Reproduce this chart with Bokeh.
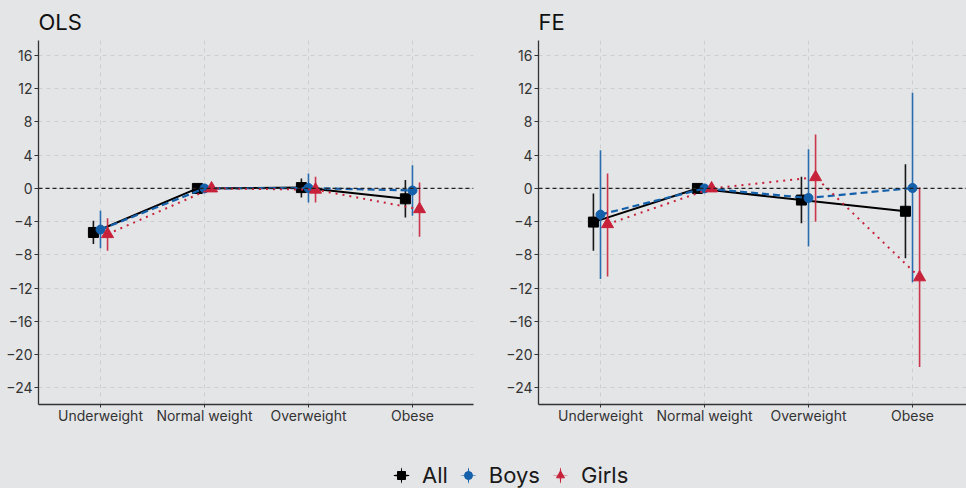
import math
from bokeh.plotting import figure
from bokeh.models import (ColumnDataSource, FixedTicker, Span, Range1d, Legend, LegendItem)
from bokeh.layouts import column, row
from bokeh.transform import dodge
from bokeh.embed import file_html
from bokeh.resources import INLINE

# ---------------- data ----------------
categories = ["Underweight", "Normal weight", "Overweight", "Obese"]
cat_pos = [1, 2, 3, 4]
y_ticks = [-24, -20, -16, -12, -8, -4, 0, 4, 8, 12, 16]
NaN = float("nan")

ols_all = [-5.3, 0.0, 0.1, -1.25]
ols_all_lo = [-6.7, NaN, -1.1, -3.5]
ols_all_hi = [-3.9, NaN, 1.2, 1.0]
ols_boys = [-4.95, 0.0, 0.05, -0.25]
ols_boys_lo = [-7.2, NaN, -1.7, -3.3]
ols_boys_hi = [-2.7, NaN, 1.8, 2.8]
ols_girls = [-5.5, 0.0, -0.15, -2.5]
ols_girls_lo = [-7.5, NaN, -1.7, -5.8]
ols_girls_hi = [-3.6, NaN, 1.4, 0.7]

fe_all = [-4.05, 0.0, -1.4, -2.75]
fe_all_lo = [-7.5, NaN, -4.2, -8.4]
fe_all_hi = [-0.6, NaN, 1.4, 2.9]
fe_boys = [-3.15, 0.0, -1.15, 0.05]
fe_boys_lo = [-10.9, NaN, -7.0, -11.3]
fe_boys_hi = [4.6, NaN, 4.7, 11.5]
fe_girls = [-4.3, 0.0, 1.35, -10.7]
fe_girls_lo = [-10.6, NaN, -4.0, -21.5]
fe_girls_hi = [1.8, NaN, 6.5, 0.1]

series_names = ["All", "Boys", "Girls"]

# ---------------- style ----------------
BG = "#E4E5E7"
FONT = "Inter"
C_ALL = "#000000"
C_BOYS = "#1560AA"
C_GIRLS = "#C7223A"
DODGE = 0.068

series_style = {
    "All": dict(color=C_ALL, dash="solid", marker="square", size=10, lw=2.0, hbar=2.6, halpha=1.0),
    "Boys": dict(color=C_BOYS, dash="7 4", marker="circle", size=9, lw=2.2, hbar=1.8, halpha=0.6),
    "Girls": dict(color=C_GIRLS, dash="2 5", marker="triangle", size=12, lw=2.0, hbar=1.6, halpha=0.35),
}
offsets = {"All": -DODGE, "Boys": 0.0, "Girls": DODGE}


def make_panel(title, data, right_border, frame_width, x_end):
    p = figure(frame_width=frame_width, frame_height=364,
               x_range=Range1d(0.404, x_end), y_range=Range1d(-26.0, 17.8),
               toolbar_location=None, output_backend="svg",
               min_border_left=38, min_border_right=right_border,
               min_border_top=40, min_border_bottom=36)
    p.title.text = title
    p.title.text_font = FONT
    p.title.text_font_size = "22px"
    p.title.text_font_style = "normal"
    p.title.text_color = "#111111"
    p.title.align = "left"
    p.title.standoff = 12
    p.background_fill_color = BG
    p.border_fill_color = BG
    p.outline_line_color = None

    for ax in (p.xaxis[0], p.yaxis[0]):
        ax.axis_line_color = "#333333"
        ax.axis_line_width = 1.3
        ax.major_tick_line_color = "#333333"
        ax.major_tick_in = 0
        ax.minor_tick_line_color = None
        ax.major_label_text_font = FONT
        ax.major_label_text_font_size = "14px"
        ax.major_label_text_color = "#333333"
    p.xaxis.major_tick_out = 3
    p.yaxis.major_tick_out = 4
    p.xaxis.major_label_standoff = -1
    p.yaxis.major_label_standoff = 2
    p.xaxis.ticker = FixedTicker(ticks=cat_pos)
    p.xaxis.major_label_overrides = {c: l for c, l in zip(cat_pos, categories)}
    p.yaxis.ticker = FixedTicker(ticks=y_ticks)

    for g in (p.xgrid[0], p.ygrid[0]):
        g.grid_line_color = "#CDCED1"
        g.grid_line_dash = "4 4"
        g.grid_line_width = 1
    p.xgrid.ticker = FixedTicker(ticks=cat_pos)
    p.ygrid.ticker = FixedTicker(ticks=y_ticks)

    p.add_layout(Span(location=0, dimension="width", line_color="#222222",
                      line_dash="4 3", line_width=1.3))

    for name, (est, lo, hi) in data.items():
        st = series_style[name]
        src = ColumnDataSource(dict(x=cat_pos, y=est))
        keep = [i for i in range(len(cat_pos)) if not math.isnan(lo[i])]
        ci = ColumnDataSource(dict(x=[cat_pos[i] for i in keep],
                                   lo=[lo[i] for i in keep],
                                   hi=[hi[i] for i in keep]))
        xd = dodge("x", offsets[name], range=p.x_range)
        p.segment(x0=xd, x1=xd, y0="lo", y1="hi", source=ci,
                  line_color=st["color"], line_width=1.6, line_alpha=0.9)
        p.line(x=xd, y="y", source=src, line_color=st["color"],
               line_dash=st["dash"], line_width=st["lw"])
        p.scatter(x=xd, y="y", source=src, marker=st["marker"], size=st["size"],
                  fill_color=st["color"], line_color=st["color"])
    return p


p1 = make_panel("OLS", {"All": (ols_all, ols_all_lo, ols_all_hi),
                        "Boys": (ols_boys, ols_boys_lo, ols_boys_hi),
                        "Girls": (ols_girls, ols_girls_lo, ols_girls_hi)},
                right_border=27, frame_width=435, x_end=4.587)
p2 = make_panel("FE", {"All": (fe_all, fe_all_lo, fe_all_hi),
                       "Boys": (fe_boys, fe_boys_lo, fe_boys_hi),
                       "Girls": (fe_girls, fe_girls_lo, fe_girls_hi)},
                right_border=0, frame_width=428, x_end=4.519)

# ---------------- legend ----------------
pl = figure(width=966, height=48, x_range=Range1d(0, 1), y_range=Range1d(0, 1),
            toolbar_location=None, output_backend="svg",
            min_border_left=0, min_border_right=0, min_border_top=0, min_border_bottom=0)
pl.axis.visible = False
pl.grid.visible = False
pl.outline_line_color = None
pl.background_fill_color = BG
pl.border_fill_color = BG

# legend-only key glyphs (pointrange keys), kept outside the visible (0..1) range
key_src = ColumnDataSource(dict(x=[5.0], y=[5.0]))
items = []
for name in series_names:
    st = series_style[name]
    r_v = pl.ellipse(x="x", y="y", source=key_src, width=1.8, height=20,
                     width_units="screen", height_units="screen",
                     fill_color=st["color"], line_color=None)
    r_h = pl.ellipse(x="x", y="y", source=key_src, width=20, height=st["hbar"],
                     width_units="screen", height_units="screen",
                     fill_color=st["color"], fill_alpha=st["halpha"], line_color=None)
    r_m = pl.scatter(x="x", y="y", source=key_src, marker=st["marker"],
                     fill_color=st["color"], line_color=st["color"])
    items.append(LegendItem(label=name, renderers=[r_v, r_h, r_m]))

legend = Legend(items=items, orientation="horizontal", location=(391, 0),
                background_fill_alpha=0, border_line_color=None,
                label_text_font=FONT, label_text_font_size="22px", label_text_color="#1a1a1a",
                glyph_width=20, glyph_height=20, label_standoff=11, spacing=10,
                padding=0, margin=0)
pl.add_layout(legend)

layout = column(row(p1, p2, spacing=0, styles={"background-color": BG}), pl, spacing=0,
                styles={"background-color": BG})
open("out.html", "w").write(file_html(layout, INLINE))
